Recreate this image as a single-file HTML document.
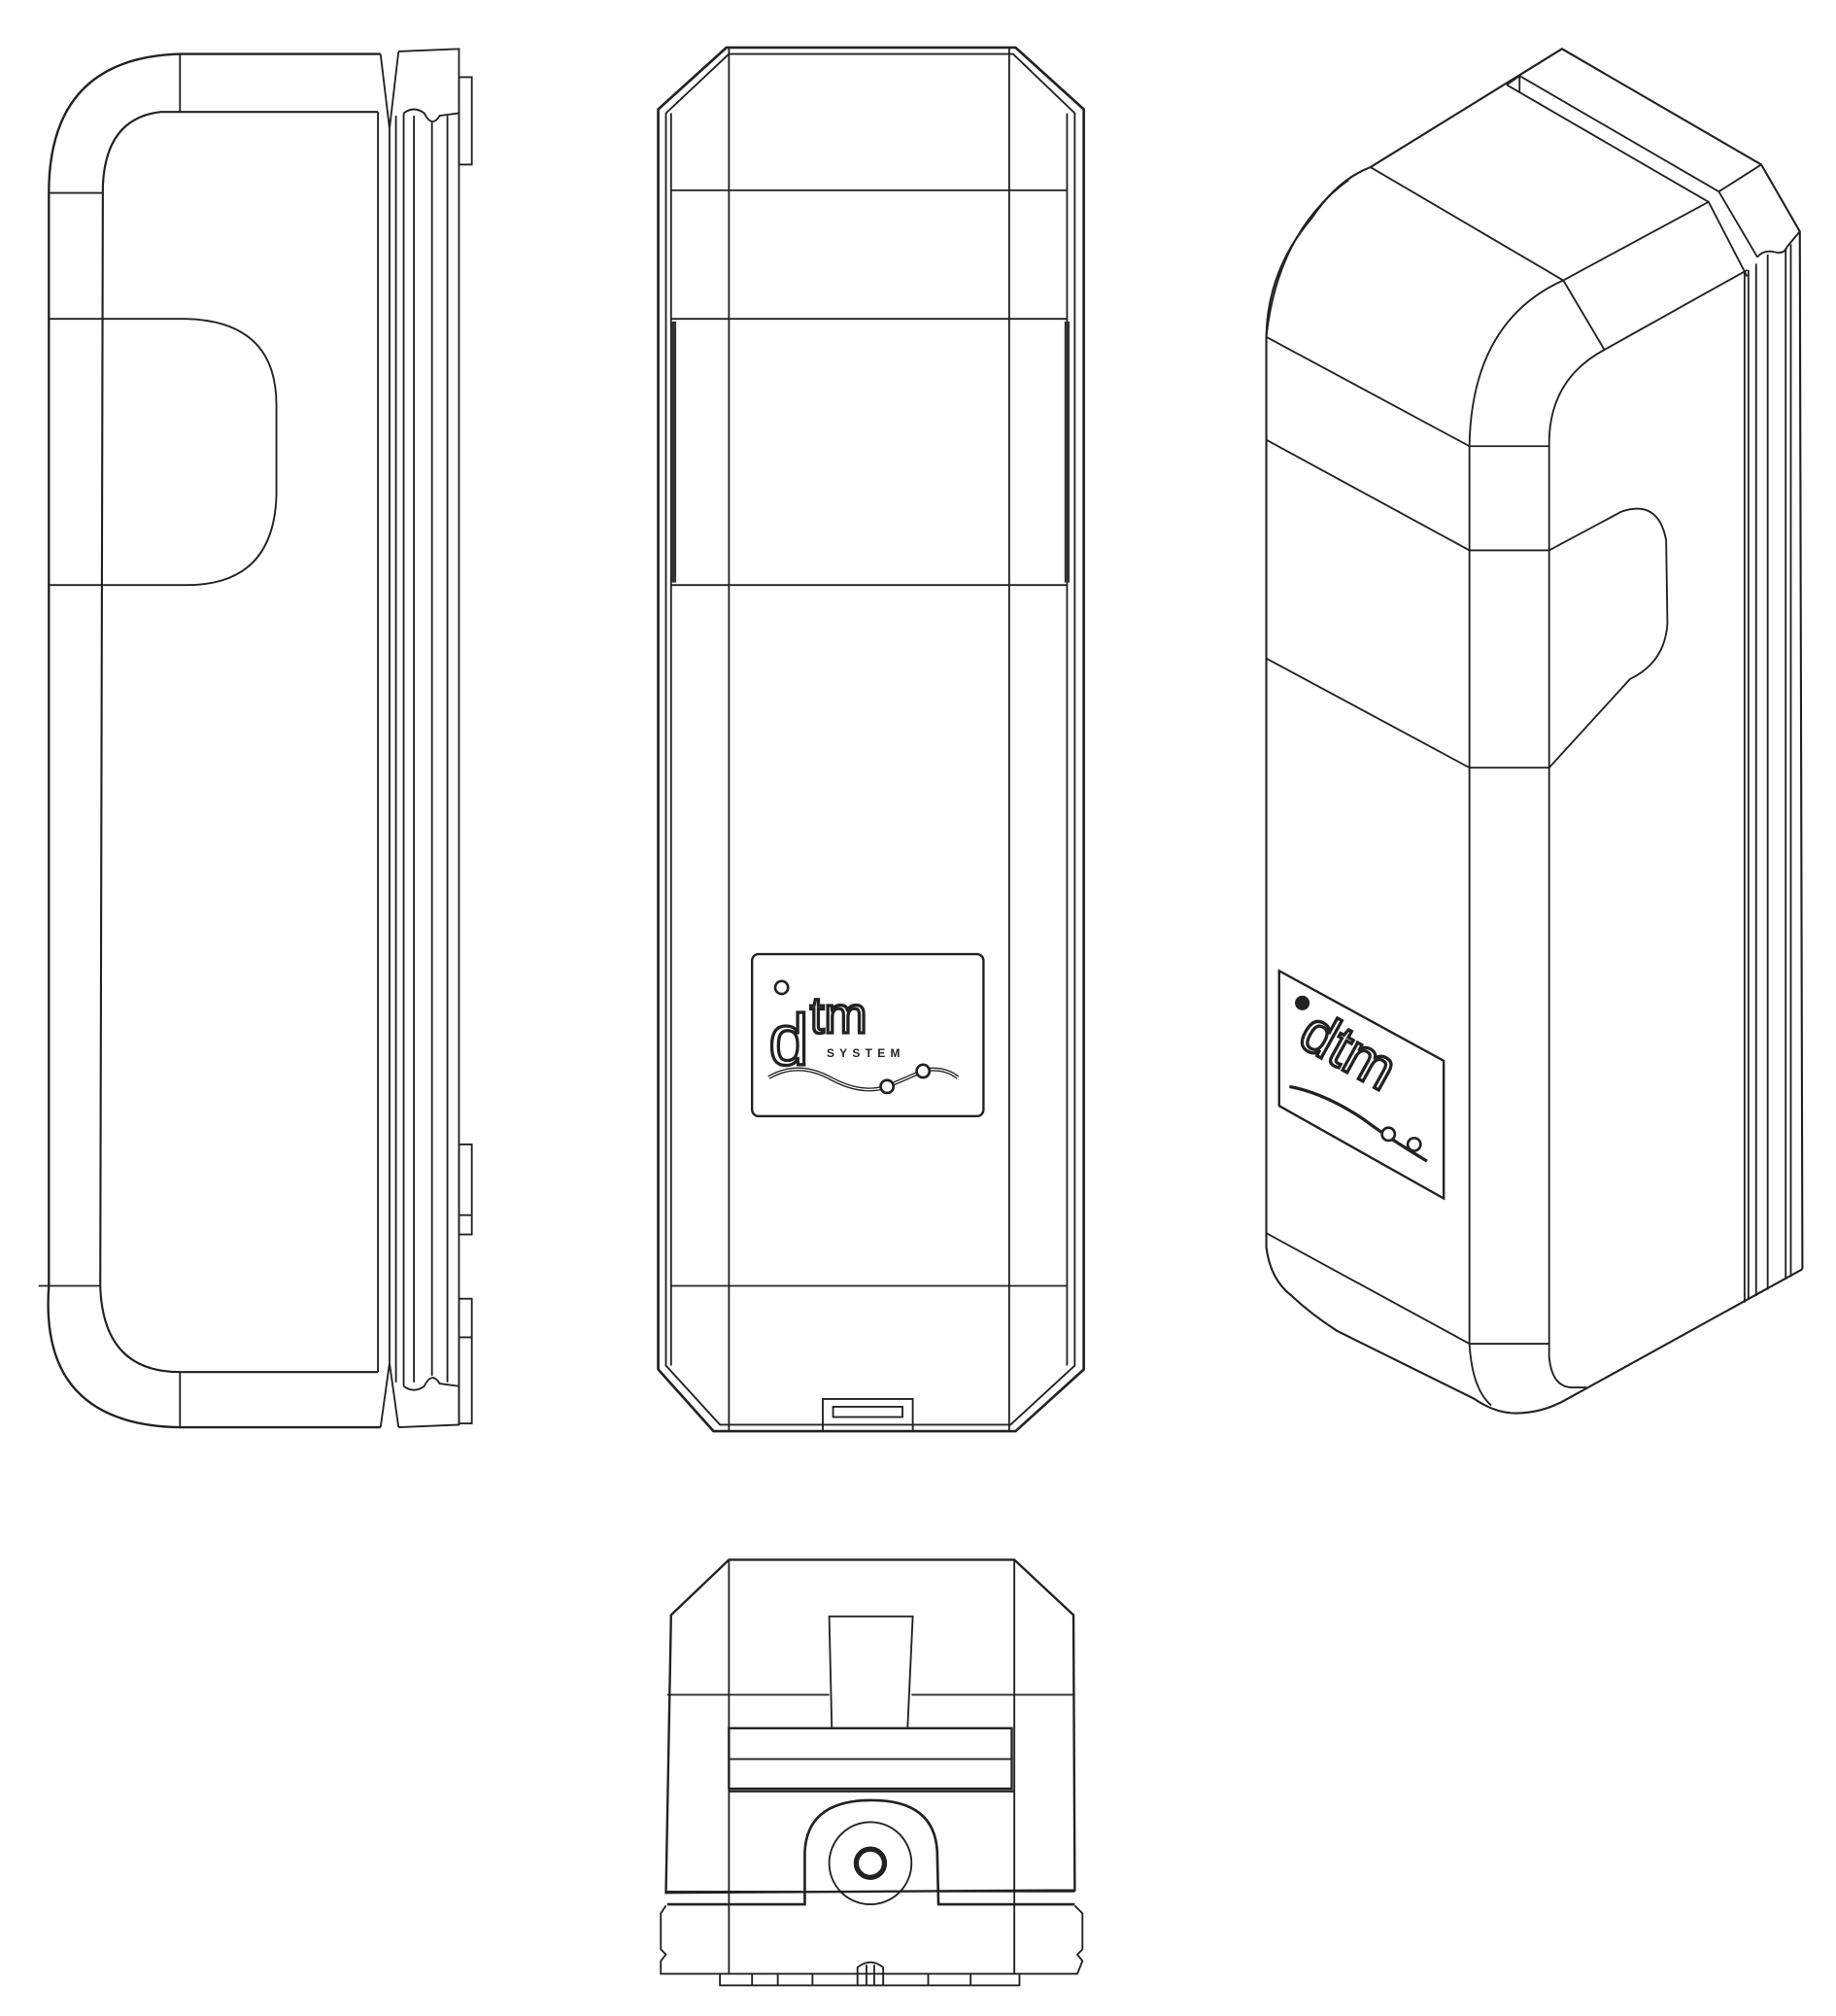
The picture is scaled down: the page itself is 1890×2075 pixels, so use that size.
<!DOCTYPE html>
<html><head><meta charset="utf-8"><style>
html,body{margin:0;padding:0;background:#fff}
svg{display:block}
</style></head><body>
<svg width="1890" height="2075" viewBox="0 0 1411 1549" preserveAspectRatio="none" xmlns="http://www.w3.org/2000/svg" fill="none" stroke="#222" stroke-width="1.4">
<rect x="0" y="0" width="1411" height="1549" fill="#fff" stroke="none"/>
<g transform="scale(0.988)">
<!-- LEFT VIEW -->
<path d="M296,42 L140,42 Q38,45 38,150 L38,1000 Q30,1108 140,1110 L296,1110" stroke-width="1.8"/>
<path d="M294,87 L125,87 Q82,92 80,145 L78,1000 Q80,1067 140,1067 L294,1067" stroke-width="1.6"/>
<path d="M38,248 L145,248 Q215,250 215,315 L215,385 Q213,455 145,455 L38,455"/>
<line x1="38" y1="150" x2="80" y2="150"/>
<line x1="30" y1="1000" x2="78" y2="1000"/>
<line x1="140" y1="42" x2="140" y2="87"/>
<line x1="140" y1="1067" x2="140" y2="1110"/>
<path d="M296,42 L303,100 L310,40"/>
<path d="M296,1110 L303,1060 L310,1110"/>
<line x1="294" y1="87" x2="294" y2="1067"/>
<line x1="303" y1="100" x2="303" y2="1060"/>
<line x1="308" y1="90" x2="308" y2="1075"/>
<line x1="314" y1="88" x2="314" y2="1078"/>
<line x1="322" y1="90" x2="322" y2="1075"/>
<line x1="336" y1="95" x2="336" y2="1070"/>
<line x1="348" y1="90" x2="348" y2="1075"/>
<path d="M310,40 L357,38 L357,1108 L310,1110"/>
<path d="M314,88 Q322,82 330,88 Q336,100 342,90 L357,88"/>
<path d="M314,1078 Q322,1084 330,1078 Q336,1066 342,1076 L357,1078"/>
<rect x="357" y="60" width="10" height="68"/>
<rect x="357" y="890" width="10" height="70"/>
<rect x="357" y="1010" width="10" height="97"/>
<line x1="357" y1="945" x2="367" y2="945"/>
<line x1="357" y1="1040" x2="367" y2="1040"/>
<!-- MIDDLE VIEW -->
<path d="M565,37 L790,37 L843,85 L843,1065 L790,1113 L555,1113 L512,1065 L512,85 Z" stroke-width="2"/>
<path d="M567,42 L788,42 L836,88 L836,1062 L786,1108 L560,1108 L518,1062 L518,88 Z"/>
<line x1="567" y1="37" x2="567" y2="1113"/>
<line x1="785" y1="37" x2="785" y2="1113"/>
<line x1="522" y1="88" x2="522" y2="1062"/>
<line x1="830" y1="88" x2="830" y2="1062"/>
<line x1="522" y1="148" x2="830" y2="148"/>
<line x1="522" y1="248" x2="830" y2="248"/>
<line x1="522" y1="455" x2="830" y2="455"/>
<line x1="522" y1="1000" x2="830" y2="1000"/>
<rect x="522" y="250" width="4" height="203" fill="#333" stroke="none"/>
<rect x="828" y="250" width="4" height="203" fill="#333" stroke="none"/>
<rect x="585" y="742" width="180" height="126" rx="5" stroke-width="1.8"/>
<circle cx="608" cy="768" r="5" stroke-width="2"/>
<text x="598" y="828" font-family="Liberation Sans, sans-serif" font-size="56" fill="#fff" stroke="#222" stroke-width="2.5">d</text>
<text x="630" y="803" font-family="Liberation Sans, sans-serif" font-size="40" fill="#fff" stroke="#222" stroke-width="2.5">tm</text>
<text x="643" y="822" font-family="Liberation Sans, sans-serif" font-size="9" font-weight="bold" letter-spacing="4" fill="#222" stroke="none">SYSTEM</text>
<path d="M598,838 Q620,825 645,838 Q670,852 690,845 L720,832 Q735,830 745,838" stroke-width="3"/>
<path d="M598,838 Q620,825 645,838 Q670,852 690,845 L720,832 Q735,830 745,838" stroke="#fff" stroke-width="1"/>
<circle cx="690" cy="845" r="5" fill="#fff" stroke-width="2"/><circle cx="718" cy="833" r="5" fill="#fff" stroke-width="2"/>
<path d="M640,1113 L640,1088 L710,1088 L710,1113"/>
<rect x="648" y="1094" width="54" height="8"/>
<!-- RIGHT VIEW -->
<path d="M1066,130 L1215,38 L1370,128 L1400,180 L1402,987" stroke-width="1.6"/>
<path d="M1066,130 Q1040,140 1020,170 Q986,210 985,262 L985,970 Q988,995 1005,1008 Q1020,1022 1040,1035 L1147,1088 Q1163,1099 1179,1099 Q1200,1099 1219,1088 L1402,987" stroke-width="1.6"/>
<path d="M1049,140 Q994,180 985,262"/>
<path d="M1172,66 L1329,157 L1359,215"/>
<path d="M1182,59 L1337,149 L1367,200"/>
<line x1="1172" y1="66" x2="1182" y2="59"/>
<line x1="1182" y1="59" x2="1182" y2="72"/>
<path d="M1337,149 L1370,128"/>
<path d="M1367,200 Q1372,194 1380,196 Q1388,198 1390,192 L1400,180"/>
<path d="M1066,130 L1216,218 L1329,157"/>
<path d="M1216,218 L1248,272 L1359,210"/>
<path d="M1216,218 Q1145,250 1143,346 L1143,1045 Q1145,1080 1160,1093"/>
<path d="M1248,272 Q1205,295 1205,345 L1205,1055 Q1207,1078 1222,1079 L1234,1079"/>
<path d="M985,262 L1143,347 L1205,347"/>
<path d="M985,342 L1143,428 L1205,428 L1261,398 Q1290,388 1296,420 L1297,485 Q1295,515 1268,528 L1205,597 L1143,597 L985,512"/>
<line x1="1357" y1="212" x2="1357" y2="1013"/>
<line x1="1360" y1="210" x2="1360" y2="1011"/>
<line x1="1366" y1="205" x2="1366" y2="1008"/>
<line x1="1375" y1="198" x2="1375" y2="1003"/>
<line x1="1389" y1="193" x2="1389" y2="995"/>
<line x1="1393" y1="190" x2="1393" y2="993"/>
<path d="M985,959 L1143,1045 L1205,1045"/>
<path d="M995,755 L1123,825 L1123,932 L995,860 Z" stroke-width="1.8"/>
<circle cx="1013" cy="780" r="5" fill="#222"/>
<text x="1008" y="812" transform="rotate(29 1008 812)" font-family="Liberation Sans, sans-serif" font-size="46" fill="#fff" stroke="#222" stroke-width="2.5">dtm</text>
<path d="M1003,845 Q1030,850 1060,870 Q1080,885 1110,903" stroke-width="2.5"/>
<circle cx="1080" cy="882" r="5" fill="#fff" stroke-width="2"/><circle cx="1100" cy="890" r="5" fill="#fff" stroke-width="2"/>
<!-- BOTTOM VIEW -->
<path d="M567,1213 L789,1213 L835,1256 L836,1470 L518,1472 L522,1256 Z" stroke-width="1.8"/>
<line x1="567" y1="1213" x2="567" y2="1535"/>
<line x1="789" y1="1213" x2="789" y2="1535"/>
<line x1="519" y1="1318" x2="645" y2="1318"/>
<line x1="709" y1="1318" x2="835" y2="1318"/>
<path d="M647,1343 L645,1257 L710,1257 L706,1343"/>
<rect x="567" y="1344" width="220" height="47" stroke-width="1.8"/>
<line x1="567" y1="1368" x2="787" y2="1368"/>
<line x1="567" y1="1393" x2="789" y2="1393" stroke-width="1.8"/>
<path d="M519,1481 L626,1481 L626,1440 Q628,1400 678,1400 Q727,1400 729,1440 L730,1481 L836,1481" stroke-width="2"/>
<line x1="518" y1="1471" x2="623" y2="1471"/>
<line x1="731" y1="1471" x2="836" y2="1471"/>
<circle cx="677" cy="1449" r="32"/>
<circle cx="677" cy="1449" r="11" stroke-width="4"/>
<path d="M518,1482 L514,1488 L514,1516 L518,1520 L514,1525 L514,1535 L838,1535 L842,1525 L838,1520 L842,1516 L842,1488 L836,1482"/>
<path d="M560,1535 L560,1544 L793,1544 L793,1535"/>
<line x1="585" y1="1535" x2="585" y2="1544"/>
<line x1="605" y1="1535" x2="605" y2="1544"/>
<line x1="632" y1="1535" x2="632" y2="1544"/>
<line x1="722" y1="1535" x2="722" y2="1544"/>
<line x1="755" y1="1535" x2="755" y2="1544"/>
<path d="M667,1544 L667,1530 Q677,1522 687,1530 L687,1544"/>
<line x1="674" y1="1528" x2="674" y2="1544"/>
<line x1="680" y1="1528" x2="680" y2="1544"/>
</g>
</svg>
</body></html>
